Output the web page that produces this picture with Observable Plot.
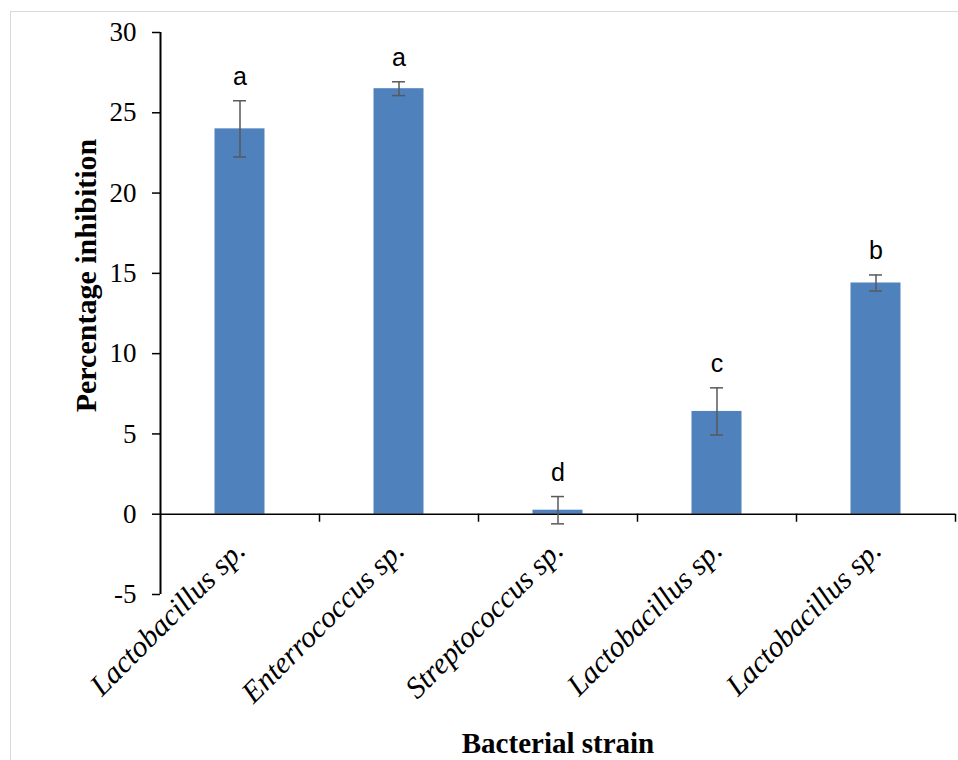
<!DOCTYPE html>
<html><head><meta charset="utf-8">
<script src="https://cdn.jsdelivr.net/npm/d3@7"></script>
<script src="https://cdn.jsdelivr.net/npm/@observablehq/plot@0.6"></script>
<style>
html,body{margin:0;padding:0;background:#fff;}
#wrap{position:relative;width:958px;height:760px;overflow:hidden;}
#chart{position:absolute;left:0;top:0;}
#border{position:absolute;left:10px;top:11px;width:1000px;height:800px;border:1.5px solid #d9d9d9;box-sizing:border-box;pointer-events:none;}
</style></head><body>
<div id="wrap"><div id="chart"></div><div id="border"></div></div>
<script>
const strainIds = ["S1","S2","S3","S4","S5"];
const strainNames = ["Lactobacillus sp.","Enterrococcus sp.","Streptococcus sp.","Lactobacillus sp.","Lactobacillus sp."];
const inhibition = [24.0, 26.5, 0.25, 6.4, 14.4];
const stdError = [1.75, 0.43, 0.85, 1.47, 0.5];
const groupLetters = ["a","a","d","c","b"];
const yTicks = [-5,0,5,10,15,20,25,30];
const yTitle = "Percentage inhibition";
const xTitle = "Bacterial strain";

const data = strainIds.map((id,i)=>({id, name: strainNames[i], value: inhibition[i], err: stdError[i], letter: groupLetters[i]}));

const W = 958, H = 760, mL = 160, mR = 3, mT = 32, mB = 166;
const step = (W - mL - mR) / strainIds.length;
const serif = "'Liberation Serif', 'Times New Roman', serif";
const sans = "'Liberation Sans', Arial, sans-serif";
const errColor = "#595959";

const chart = Plot.plot({
  width: W, height: H,
  marginLeft: mL, marginRight: mR, marginTop: mT, marginBottom: mB,
  style: {fontFamily: serif, fontSize: "27px", color: "#000", background: "transparent", overflow: "visible"},
  x: {domain: strainIds, padding: 0, axis: null},
  y: {domain: [yTicks[0], yTicks[yTicks.length-1]], axis: null},
  marks: [
    Plot.barY(data, {x: "id", y: "value", fill: "#4f81bd", insetLeft: 54.5, insetRight: 54.5}),
    Plot.axisY({ticks: yTicks, tickSize: 8, tickPadding: 16, tickFormat: d => String(d), strokeWidth: 1.5, fontSize: 27, label: null}),
    Plot.ruleX([strainIds[0]], {x: d => d, dx: -step/2, y1: yTicks[0], y2: yTicks[yTicks.length-1], stroke: "#000", strokeWidth: 2}),
    Plot.ruleY([0], {stroke: "#000", strokeWidth: 1.5}),
    Plot.ruleX(strainIds, {x: d => d, dx: step/2, y1: 0, y2: -0.5, stroke: "#000", strokeWidth: 1.5}),
    Plot.ruleX(data, {x: "id", y1: d => d.value - d.err, y2: d => d.value + d.err, stroke: errColor, strokeWidth: 1.5}),
    Plot.tickY(data, {x: "id", y: d => d.value + d.err, insetLeft: 73, insetRight: 73, stroke: errColor, strokeWidth: 1.5}),
    Plot.tickY(data, {x: "id", y: d => d.value - d.err, insetLeft: 73, insetRight: 73, stroke: errColor, strokeWidth: 1.5}),
    Plot.text(data, {x: "id", y: d => d.value + d.err, text: "letter", dy: -24, fontFamily: sans, fontSize: 25, fill: "#000"}),
    Plot.text(data, {x: "id", y: 0, text: "name", rotate: -45, textAnchor: "end", lineAnchor: "bottom", fontStyle: "italic", fontSize: 30, dx: 7, dy: 38, fill: "#000"}),
    Plot.text([yTitle], {text: d => d, frameAnchor: "left", textAnchor: "middle", lineAnchor: "middle", rotate: -90, dx: -74, dy: -38, fontWeight: "bold", fontSize: 30, fill: "#000"}),
    Plot.text([xTitle], {text: d => d, frameAnchor: "bottom", textAnchor: "middle", lineAnchor: "middle", dy: 149, fontWeight: "bold", fontSize: 29, fill: "#000"})
  ]
});
document.getElementById("chart").appendChild(chart);
</script>
</body></html>
